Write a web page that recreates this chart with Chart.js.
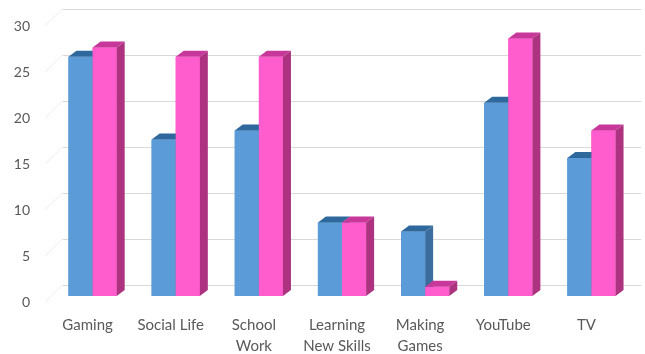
<!DOCTYPE html>
<html>
<head>
<meta charset="utf-8">
<script src="https://cdn.jsdelivr.net/npm/chart.js@4"></script>
<style>
  html, body { margin: 0; padding: 0; background: #fff; }
  #wrap { width: 645px; height: 354px; }
</style>
</head>
<body>
<div id="wrap"><canvas id="chart" width="645" height="354"></canvas></div>
<script>
// chart data
const categories = ['Gaming', 'Social Life', ['School', 'Work'], ['Learning', 'New Skills'], ['Making', 'Games'], 'YouTube', 'TV'];
const seriesBlue = [26, 17, 18, 8, 7, 21, 15];
const seriesPink = [27, 26, 26, 8, 1, 28, 18];
const yTicks = [0, 5, 10, 15, 20, 25, 30];

// face colours: front, top, side
const blueFaces = ['#5b9bd7', '#2f689c', '#3b6e9f'];
const pinkFaces = ['#ff5ccd', '#c8389a', '#ad3380'];

// 3d look: back wall offset and bar depth
const wallDx = 12, wallDy = -11.5, floorDx = -6, floorDy = 6;
const barDx = 8, barDy = -6;

const walls = {
    id: 'walls',
    beforeDatasetsDraw(chart) {
        const ctx = chart.ctx;
        const y = chart.scales.y;
        const area = chart.chartArea;
        ctx.save();
        yTicks.forEach(function(v) {
            const yf = y.getPixelForValue(v);
            // left wall diagonal
            ctx.strokeStyle = '#ececec';
            ctx.lineWidth = 1;
            ctx.beginPath();
            ctx.moveTo(area.left + floorDx, yf + floorDy);
            ctx.lineTo(area.left + wallDx, yf + wallDy);
            ctx.stroke();
            // back wall grid line
            ctx.strokeStyle = '#d9d9d9';
            ctx.beginPath();
            ctx.moveTo(area.left + wallDx, Math.round(yf + wallDy) + 0.5);
            ctx.lineTo(chart.width - 4, Math.round(yf + wallDy) + 0.5);
            ctx.stroke();
        });
        ctx.restore();
    },
    afterDatasetsDraw(chart) {
        const ctx = chart.ctx;
        const metas = [chart.getDatasetMeta(0), chart.getDatasetMeta(1)];
        const faces = [blueFaces, pinkFaces];
        ctx.save();
        for (let i = 0; i < categories.length; i++) {
            metas.forEach(function(meta, d) {
                const bar = meta.data[i];
                const xl = bar.x - bar.width / 2;
                const xr = bar.x + bar.width / 2;
                const top = bar.y, base = bar.base;
                const c = faces[d];
                // front
                ctx.fillStyle = c[0];
                ctx.fillRect(xl, top, xr - xl, base - top);
                // top
                ctx.fillStyle = c[1];
                ctx.beginPath();
                ctx.moveTo(xl, top);
                ctx.lineTo(xr, top);
                ctx.lineTo(xr + barDx, top + barDy);
                ctx.lineTo(xl + barDx, top + barDy);
                ctx.closePath();
                ctx.fill();
                // side
                ctx.fillStyle = c[2];
                ctx.beginPath();
                ctx.moveTo(xr, top);
                ctx.lineTo(xr + barDx, top + barDy);
                ctx.lineTo(xr + barDx, base + barDy);
                ctx.lineTo(xr, base);
                ctx.closePath();
                ctx.fill();
            });
        }
        ctx.restore();
    }
};

new Chart(document.getElementById('chart'), {
    type: 'bar',
    data: {
        labels: categories,
        datasets: [
            { data: seriesBlue, backgroundColor: blueFaces[0], categoryPercentage: 0.58, barPercentage: 1 },
            { data: seriesPink, backgroundColor: pinkFaces[0], categoryPercentage: 0.58, barPercentage: 1 }
        ]
    },
    options: {
        responsive: false,
        animation: false,
        layout: { padding: { top: 20, right: 12, left: 0, bottom: 0 } },
        plugins: { legend: { display: false }, tooltip: { enabled: false } },
        scales: {
            x: {
                grid: { display: false, drawTicks: false },
                border: { display: false },
                ticks: {
                    color: '#595959',
                    font: { family: 'Lato', size: 15, lineHeight: 1.45 },
                    padding: 18,
                    labelOffset: -5,
                    maxRotation: 0,
                    autoSkip: false
                },
                afterFit: function(s) { s.height = 58; s.paddingLeft = 0; s.paddingRight = 0; }
            },
            y: {
                min: 0,
                max: 30,
                grid: { display: false, drawTicks: false },
                border: { display: false },
                ticks: {
                    stepSize: 5,
                    color: '#595959',
                    font: { family: 'Lato', size: 14 },
                    padding: 21,
                    labelOffset: 6
                },
                afterFit: function(s) { s.width = 51; s.paddingTop = 0; s.paddingBottom = 0; }
            }
        }
    },
    plugins: [walls]
});
</script>
</body>
</html>
